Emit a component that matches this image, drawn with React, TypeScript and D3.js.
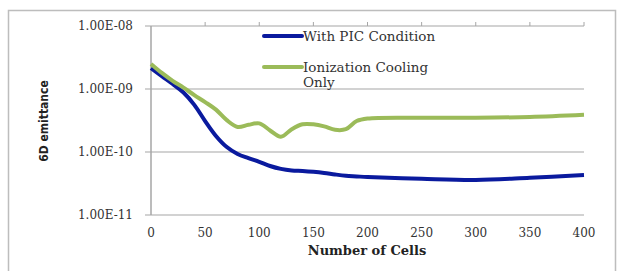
import React, { useEffect, useRef } from 'react';
import * as d3 from 'd3';

// cells along the beam line
const cells = [0, 10, 20, 30, 40, 50, 60, 70, 80, 90, 100, 110, 120, 130, 140, 150, 160, 170, 180, 190, 200, 250, 300, 350, 400];

const withPic = [
  2.15e-9, 1.6e-9, 1.2e-9, 8.8e-10, 5.6e-10, 3.1e-10, 1.8e-10, 1.2e-10, 9.3e-11, 8e-11,
  7e-11, 6e-11, 5.4e-11, 5.1e-11, 5e-11, 4.85e-11, 4.65e-11, 4.4e-11, 4.2e-11, 4.1e-11,
  4e-11, 3.75e-11, 3.6e-11, 3.9e-11, 4.3e-11,
];

const ionOnly = [
  2.5e-9, 1.8e-9, 1.35e-9, 1.05e-9, 8e-10, 6.2e-10, 4.7e-10, 3.2e-10, 2.5e-10, 2.7e-10,
  2.85e-10, 2.2e-10, 1.75e-10, 2.3e-10, 2.75e-10, 2.75e-10, 2.55e-10, 2.25e-10, 2.3e-10, 3.1e-10,
  3.4e-10, 3.5e-10, 3.5e-10, 3.6e-10, 3.9e-10,
];

const yTicks = [1e-8, 1e-9, 1e-10, 1e-11];
const xTicks = [0, 50, 100, 150, 200, 250, 300, 350, 400];

const series = [
  { name: 'With PIC Condition', values: withPic, color: '#0a1a9e' },
  { name: 'Ionization Cooling Only', values: ionOnly, color: '#9bbb59' },
];

const fmtExp = (v: number) => {
  const e = Math.round(Math.log10(v));
  return `1.00E-${String(-e).padStart(2, '0')}`;
};

const App: React.FC = () => {
  const ref = useRef<SVGSVGElement | null>(null);

  useEffect(() => {
    if (!ref.current) return;
    const svg = d3.select(ref.current);
    svg.selectAll('*').remove();

    const x = d3.scaleLinear().domain([0, 400]).range([151, 584]);
    const y = d3.scaleLog().domain([1e-11, 1e-8]).range([215, 26]);
    const serif = "'DejaVu Serif', serif";

    // outer frame
    svg.append('path')
      .attr('d', 'M8.5,271 V10.5 H615.5 V271')
      .attr('fill', 'none')
      .attr('stroke', '#bdbdbd')
      .attr('stroke-width', 1.5);

    // horizontal gridlines + left ticks
    svg.append('g').selectAll('line')
      .data(yTicks)
      .join('line')
      .attr('x1', 145).attr('x2', 584)
      .attr('y1', d => y(d)).attr('y2', d => y(d))
      .attr('stroke', '#a6a6a6').attr('stroke-width', 1.2);

    // small ticks above top line
    svg.append('g').selectAll('line')
      .data(xTicks.slice(1))
      .join('line')
      .attr('x1', d => x(d)).attr('x2', d => x(d))
      .attr('y1', y(1e-8)).attr('y2', y(1e-8) - 4)
      .attr('stroke', '#a6a6a6').attr('stroke-width', 1);

    // y axis line
    svg.append('line')
      .attr('x1', x(0)).attr('x2', x(0))
      .attr('y1', y(1e-8)).attr('y2', y(1e-11))
      .attr('stroke', '#a6a6a6').attr('stroke-width', 1.5);

    svg.append('g').selectAll('text')
      .data(yTicks)
      .join('text')
      .attr('x', 133).attr('y', d => y(d) + 4)
      .attr('text-anchor', 'end')
      .attr('font-family', serif).attr('font-size', 12)
      .attr('fill', '#333')
      .text(d => fmtExp(d));

    svg.append('g').selectAll('text')
      .data(xTicks)
      .join('text')
      .attr('x', d => x(d)).attr('y', 237)
      .attr('text-anchor', 'middle')
      .attr('font-family', serif).attr('font-size', 12)
      .attr('fill', '#333')
      .text(d => d);

    svg.append('text')
      .attr('x', 367).attr('y', 255)
      .attr('text-anchor', 'middle')
      .attr('font-family', serif).attr('font-size', 13).attr('font-weight', 'bold')
      .attr('fill', '#222')
      .text('Number of Cells');

    svg.append('text')
      .attr('transform', 'translate(48,121) rotate(-90)')
      .attr('text-anchor', 'middle')
      .attr('font-family', "'DejaVu Sans Condensed', sans-serif")
      .attr('font-size', 12).attr('font-weight', 'bold')
      .attr('fill', '#222')
      .text('6D emittance');

    const line = d3.line<number>()
      .x((_, i) => x(cells[i]))
      .y(d => y(d))
      .curve(d3.curveCatmullRom.alpha(0.5));

    series.forEach(s => {
      svg.append('path')
        .datum(s.values)
        .attr('d', line)
        .attr('fill', 'none')
        .attr('stroke', s.color)
        .attr('stroke-width', 4)
        .attr('stroke-linejoin', 'round');
    });

    // legend
    const legY = [36, 67];
    series.forEach((s, i) => {
      svg.append('line')
        .attr('x1', 264).attr('x2', 302)
        .attr('y1', legY[i]).attr('y2', legY[i])
        .attr('stroke', s.color).attr('stroke-width', 4)
        .attr('stroke-linecap', 'round');
    });
    const legText = svg.append('g')
      .attr('font-family', serif).attr('font-size', 13.5)
      .attr('fill', '#333');
    legText.append('text').attr('x', 303).attr('y', 41).text('With PIC Condition');
    legText.append('text').attr('x', 303).attr('y', 72).text('Ionization Cooling');
    legText.append('text').attr('x', 303).attr('y', 87).text('Only');
  }, []);

  return (
    <svg
      ref={ref}
      width={618}
      height={271}
      style={{ position: 'absolute', left: 0, top: 0, background: '#fff' }}
    />
  );
};

export default App;
